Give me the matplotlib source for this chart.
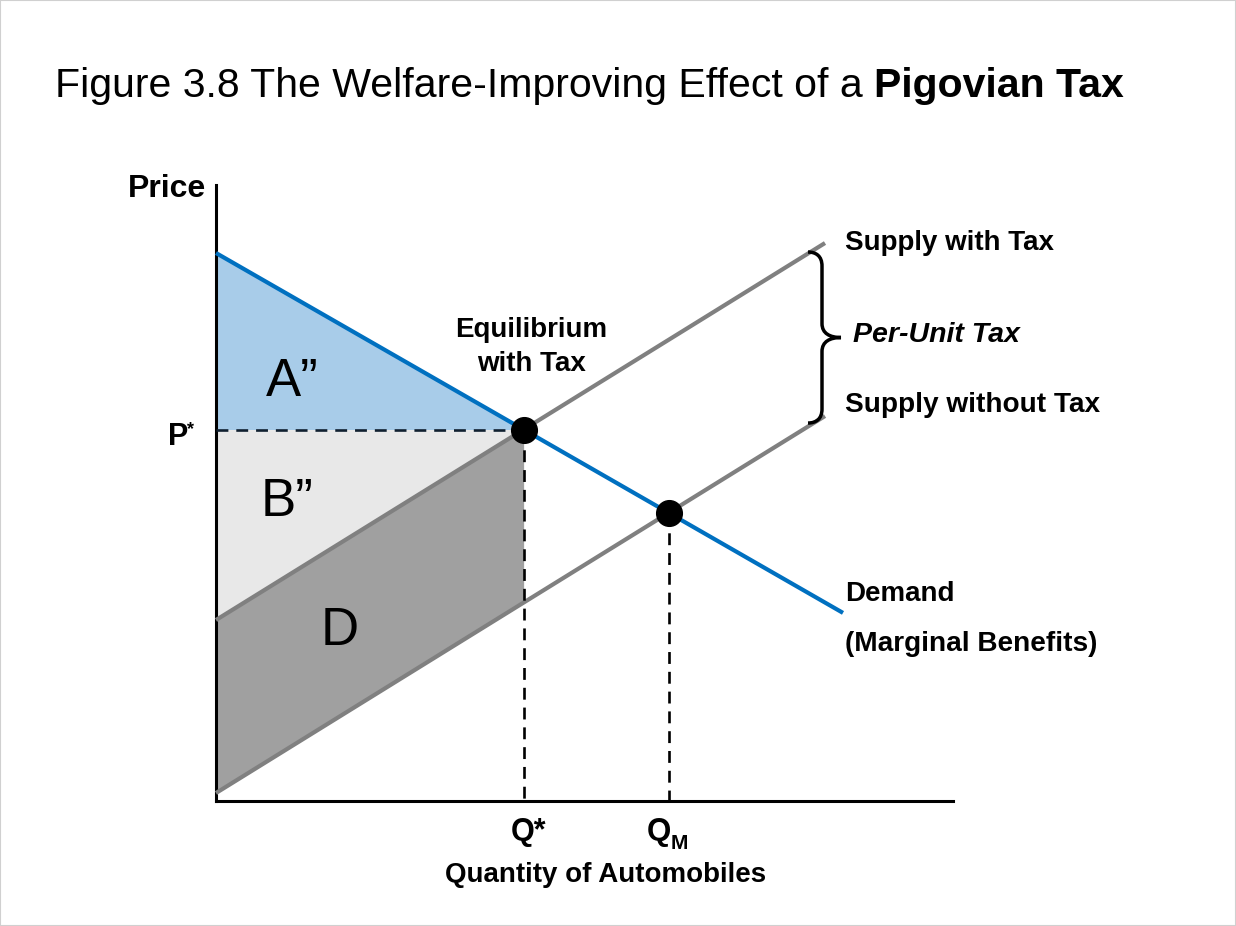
import matplotlib
matplotlib.use("Agg")
import matplotlib.pyplot as plt
from matplotlib.path import Path
from matplotlib.patches import PathPatch, Rectangle
import numpy as np

# ---------------- data (quantity / price units) ----------------
demand_intercept = 54.8      # price at zero quantity
demand_slope = -0.574
supply_tax_intercept = 18.1
supply_notax_intercept = 0.8
supply_slope = 0.619
demand_q_end = 62.7
supply_q_end = 60.9
q_max = 73.7
p_max = 61.6

area_labels = ["A\u201d", "B\u201d", "D"]
curve_labels = ["Supply with Tax", "Per-Unit Tax", "Supply without Tax",
                "Demand", "(Marginal Benefits)"]
title_regular = "Figure 3.8 The Welfare-Improving Effect of a "
title_bold = "Pigovian Tax"

# ---------------- helpers ----------------
W, H = 1236, 926
FONT = "Liberation Sans"


def demand(q):
    return demand_intercept + demand_slope * np.asarray(q)


def supply_tax(q):
    return supply_tax_intercept + supply_slope * np.asarray(q)


def supply_notax(q):
    return supply_notax_intercept + supply_slope * np.asarray(q)


# equilibria from intersections
q_star = (demand_intercept - supply_tax_intercept) / (supply_slope - demand_slope)
p_star = float(demand(q_star))
q_m = (demand_intercept - supply_notax_intercept) / (supply_slope - demand_slope)
p_m = float(demand(q_m))

fig = plt.figure(figsize=(W / 100, H / 100), dpi=100)
fig.patch.set_facecolor("white")


def ftxt(x, y, s, **kw):
    kw.setdefault("family", FONT)
    return fig.text(x / W, 1 - y / H, s, **kw)


ax = fig.add_axes([216 / W, (H - 801) / H, (953 - 216) / W, (801 - 185) / H])
ax.set_xlim(0, q_max)
ax.set_ylim(0, p_max)
ax.set_xticks([])
ax.set_yticks([])
for s in ["top", "right"]:
    ax.spines[s].set_visible(False)
for s in ["left", "bottom"]:
    ax.spines[s].set_linewidth(2.2)
    ax.spines[s].set_color("black")
ax.patch.set_alpha(0)

# ---------------- filled areas ----------------
qf = np.linspace(0, q_star, 50)
ax.fill_between(qf, p_star, demand(qf), color="#A8CCE9", lw=0, zorder=1)
ax.fill_between(qf, supply_tax(qf), p_star, color="#E8E8E8", lw=0, zorder=1)
ax.fill_between(qf, supply_notax(qf), supply_tax(qf), color="#A0A0A0", lw=0, zorder=1)

# ---------------- curves ----------------
qd = np.array([0, demand_q_end])
qs = np.array([0, supply_q_end])
ax.plot(qs, supply_tax(qs), color="#808080", lw=3.0, solid_capstyle="butt", zorder=3, clip_on=False)
ax.plot(qs, supply_notax(qs), color="#808080", lw=3.0, solid_capstyle="butt", zorder=3, clip_on=False)
ax.plot(qd, demand(qd), color="#0070C0", lw=3.0, solid_capstyle="butt", zorder=4, clip_on=False)

# dashed guides
dash = (0, (4.5, 3.0))
ax.plot([0, q_star], [p_star, p_star], color="#102030", lw=1.9, ls=dash, zorder=5)
ax.plot([q_star, q_star], [p_star, 0], color="black", lw=1.9, ls=dash, zorder=5)
ax.plot([q_m, q_m], [p_m, 0], color="black", lw=1.9, ls=dash, zorder=5)

# equilibrium dots
ax.plot([q_star, q_m], [p_star, p_m], "o", color="black", ms=18.5, zorder=6, clip_on=False)

# ---------------- brace ----------------
xb = supply_q_end - 0.3
top = float(supply_tax(supply_q_end)) - 0.9
bot = float(supply_notax(supply_q_end)) - 0.7
mid = (top + bot) / 2
hx = 1.4   # hook width
tx = 1.9   # tip width
r = 1.4    # curvature height
verts = [
    (xb - hx, top), (xb - 0.6, top), (xb, top - 0.4), (xb, top - r),
    (xb, mid + r),
    (xb, mid + 0.4), (xb + 0.8, mid), (xb + tx, mid),
    (xb + 0.8, mid), (xb, mid - 0.4), (xb, mid - r),
    (xb, bot + r),
    (xb, bot + 0.4), (xb - 0.6, bot), (xb - hx, bot),
]
codes = [Path.MOVETO, Path.CURVE4, Path.CURVE4, Path.CURVE4,
         Path.LINETO,
         Path.CURVE4, Path.CURVE4, Path.CURVE4,
         Path.CURVE4, Path.CURVE4, Path.CURVE4,
         Path.LINETO,
         Path.CURVE4, Path.CURVE4, Path.CURVE4]
ax.add_patch(PathPatch(Path(verts, codes), fill=False, lw=2.5, edgecolor="black",
                       zorder=5, clip_on=False, capstyle="butt"))

# ---------------- texts ----------------
# title: regular + bold part
t1 = ftxt(55, 97, title_regular, fontsize=29.5, va="baseline", ha="left")
fig.canvas.draw()
bb = t1.get_window_extent(renderer=fig.canvas.get_renderer())
fig.text(bb.x1 / W, 1 - 97 / H, title_bold, fontsize=29.5, fontweight="bold",
         family=FONT, va="baseline", ha="left")

ftxt(206, 197, "Price", fontsize=23, fontweight="bold", ha="right", va="baseline")
ftxt(168, 445, "P", fontsize=22, fontweight="bold", ha="left", va="baseline")
ftxt(187, 434, "*", fontsize=13, fontweight="bold", ha="left", va="baseline")

ftxt(511, 840, "Q*", fontsize=22, fontweight="bold", ha="left", va="baseline")
ftxt(647, 840, "Q", fontsize=22.5, fontweight="bold", ha="left", va="baseline")
ftxt(671, 849, "M", fontsize=15, fontweight="bold", ha="left", va="baseline")
ftxt(606, 882, "Quantity of Automobiles", fontsize=20, fontweight="bold", ha="center", va="baseline")

ftxt(531, 337, "Equilibrium", fontsize=20, fontweight="bold", ha="center", va="baseline")
ftxt(531, 371, "with Tax", fontsize=20, fontweight="bold", ha="center", va="baseline")

ftxt(266, 396, area_labels[0], fontsize=38, ha="left", va="baseline")
ftxt(261, 516, area_labels[1], fontsize=38, ha="left", va="baseline")
ftxt(321, 645, area_labels[2], fontsize=38, ha="left", va="baseline")

ftxt(845, 250, curve_labels[0], fontsize=20, fontweight="bold", ha="left", va="baseline")
ftxt(853, 342, curve_labels[1], fontsize=20.5, fontweight="bold", style="italic", ha="left", va="baseline")
ftxt(845, 412, curve_labels[2], fontsize=20.2, fontweight="bold", ha="left", va="baseline")
ftxt(845, 601, curve_labels[3], fontsize=20, fontweight="bold", ha="left", va="baseline")
ftxt(845, 651, curve_labels[4], fontsize=20.2, fontweight="bold", ha="left", va="baseline")

# faint frame around the slide image
fig.patches.append(Rectangle((0, 0), 1, 1, transform=fig.transFigure, fill=False,
                             edgecolor="#D0D0D0", lw=1.5))

fig.savefig("out.png", dpi=100, facecolor="white")
